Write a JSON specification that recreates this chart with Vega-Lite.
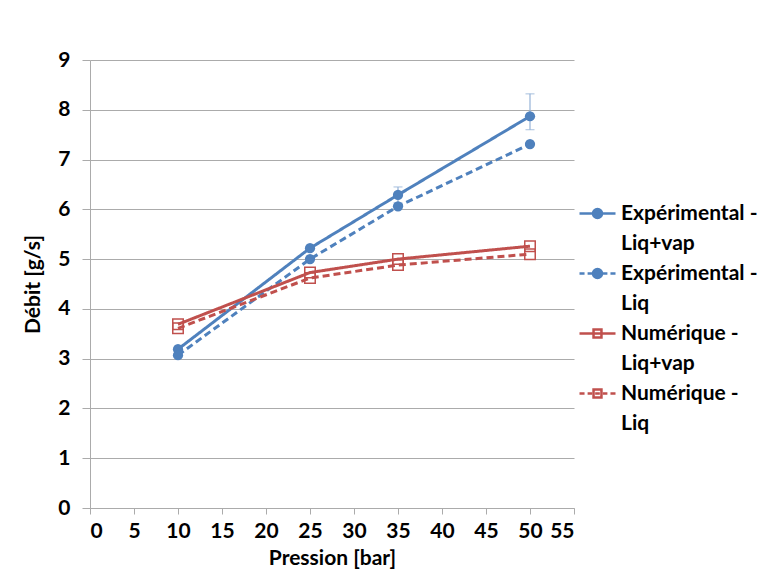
{
  "$schema": "https://vega.github.io/schema/vega-lite/v6.json",
  "width": 484,
  "height": 448,
  "autosize": "none",
  "padding": {"left": 90, "top": 60, "right": 183, "bottom": 65},
  "background": "white",
  "config": {
    "font": "Lato",
    "view": {"stroke": null},
    "axis": {
      "labelFont": "Lato", "labelFontWeight": "bold", "labelFontSize": 21, "labelColor": "#000000",
      "titleFont": "Lato", "titleFontWeight": "bold", "titleFontSize": 21, "titleColor": "#000000",
      "domainColor": "#ABABAB", "tickColor": "#ABABAB", "gridColor": "#ABABAB", "domainWidth": 1, "tickWidth": 1, "gridWidth": 1
    },
    "style": {"guide-label": {"lineHeight": 30}}
  },
  "datasets": {
    "d": [
      {"serie": "Expérimental - Liq+vap", "groupe": "Expérimental", "pression": 10, "debit": 3.19},
      {"serie": "Expérimental - Liq+vap", "groupe": "Expérimental", "pression": 25, "debit": 5.22},
      {"serie": "Expérimental - Liq+vap", "groupe": "Expérimental", "pression": 35, "debit": 6.29},
      {"serie": "Expérimental - Liq+vap", "groupe": "Expérimental", "pression": 50, "debit": 7.87},
      {"serie": "Expérimental - Liq", "groupe": "Expérimental", "pression": 10, "debit": 3.07},
      {"serie": "Expérimental - Liq", "groupe": "Expérimental", "pression": 25, "debit": 5.0},
      {"serie": "Expérimental - Liq", "groupe": "Expérimental", "pression": 35, "debit": 6.06},
      {"serie": "Expérimental - Liq", "groupe": "Expérimental", "pression": 50, "debit": 7.31},
      {"serie": "Numérique - Liq+vap", "groupe": "Numérique", "pression": 10, "debit": 3.69},
      {"serie": "Numérique - Liq+vap", "groupe": "Numérique", "pression": 25, "debit": 4.73},
      {"serie": "Numérique - Liq+vap", "groupe": "Numérique", "pression": 35, "debit": 5.0},
      {"serie": "Numérique - Liq+vap", "groupe": "Numérique", "pression": 50, "debit": 5.26},
      {"serie": "Numérique - Liq", "groupe": "Numérique", "pression": 10, "debit": 3.61},
      {"serie": "Numérique - Liq", "groupe": "Numérique", "pression": 25, "debit": 4.62},
      {"serie": "Numérique - Liq", "groupe": "Numérique", "pression": 35, "debit": 4.88},
      {"serie": "Numérique - Liq", "groupe": "Numérique", "pression": 50, "debit": 5.1}
    ],
    "err": [
      {"pression": 35, "bas": 6.13, "haut": 6.45},
      {"pression": 50, "bas": 7.6, "haut": 8.32}
    ]
  },
  "layer": [
    {
      "data": {"name": "err"},
      "mark": {"type": "errorbar", "ticks": {"size": 9}, "color": "#95B3D7", "thickness": 1.2},
      "encoding": {
        "x": {"field": "pression", "type": "quantitative", "title": "Pression [bar]", "scale": {"domain": [0, 55]}},
        "y": {"field": "bas", "type": "quantitative", "title": "Débit [g/s]", "scale": {"domain": [0, 9]}},
        "y2": {"field": "haut"}
      }
    },
    {
      "data": {"name": "d"},
      "mark": {"type": "line", "strokeWidth": 3},
      "encoding": {
        "x": {"field": "pression", "type": "quantitative", "title": "Pression [bar]"},
        "y": {"field": "debit", "type": "quantitative", "title": "Débit [g/s]"},
        "color": {"field": "serie", "type": "nominal", "legend": null,
          "scale": {"range": ["#4F81BD", "#4F81BD", "#C0504D", "#C0504D"]}},
        "strokeDash": {"field": "serie", "type": "nominal", "legend": null,
          "scale": {"range": [[7, 4], [1, 0], [7, 4], [1, 0]]}}
      }
    },
    {
      "data": {"name": "d"},
      "transform": [{"filter": "datum.groupe == 'Expérimental'"}],
      "mark": {"type": "point", "shape": "circle", "filled": true, "size": 105, "opacity": 1},
      "encoding": {
        "x": {"field": "pression", "type": "quantitative", "title": "Pression [bar]"},
        "y": {"field": "debit", "type": "quantitative", "title": "Débit [g/s]"},
        "color": {"field": "serie", "type": "nominal", "legend": null}
      }
    },
    {
      "data": {"name": "d"},
      "transform": [{"filter": "datum.groupe == 'Numérique'"}],
      "mark": {"type": "point", "shape": "square", "filled": false, "size": 110, "strokeWidth": 1.5, "opacity": 1},
      "encoding": {
        "x": {"field": "pression", "type": "quantitative", "title": "Pression [bar]"},
        "y": {"field": "debit", "type": "quantitative", "title": "Débit [g/s]"},
        "color": {"field": "serie", "type": "nominal", "legend": null}
      }
    },
    {
      "data": {"name": "d"},
      "transform": [{"filter": "datum.debit < 0"}],
      "mark": {"type": "point", "filled": true, "opacity": 1},
      "encoding": {
        "x": {"field": "pression", "type": "quantitative", "title": "Pression [bar]",
          "axis": {"values": [0, 5, 10, 15, 20, 25, 30, 35, 40, 45, 50, 55], "grid": false, "tickSize": 6, "labelPadding": 6, "titlePadding": 6}},
        "y": {"field": "debit", "type": "quantitative", "title": "Débit [g/s]",
          "axis": {"values": [0, 1, 2, 3, 4, 5, 6, 7, 8, 9], "grid": true, "tickSize": 8, "labelPadding": 12, "titlePadding": 14}},
        "shape": {"field": "serie", "type": "nominal",
          "scale": {"domain": ["Expérimental - Liq+vap", "Expérimental - Liq", "Numérique - Liq+vap", "Numérique - Liq"],
            "range": [
              "M-1,0L1,0M0.25,0C0.25,0.138,0.138,0.25,0,0.25C-0.138,0.25,-0.25,0.138,-0.25,0C-0.25,-0.138,-0.138,-0.25,0,-0.25C0.138,-0.25,0.25,-0.138,0.25,0Z",
              "M-1,0L-0.72,0M-0.55,0L-0.3,0M0.3,0L0.55,0M0.72,0L1,0M0.25,0C0.25,0.138,0.138,0.25,0,0.25C-0.138,0.25,-0.25,0.138,-0.25,0C-0.25,-0.138,-0.138,-0.25,0,-0.25C0.138,-0.25,0.25,-0.138,0.25,0Z",
              "M-1,0L1,0M-0.22,-0.22L0.22,-0.22L0.22,0.22L-0.22,0.22Z",
              "M-1,0L-0.72,0M-0.55,0L-0.3,0M-0.13,0L0.13,0M0.3,0L0.55,0M0.72,0L1,0M-0.22,-0.22L0.22,-0.22L0.22,0.22L-0.22,0.22Z"
            ]},
          "legend": {
            "title": null, "orient": "none", "legendX": 488, "legendY": 134, "padding": 0,
            "symbolSize": 1296, "symbolStrokeWidth": 2.5, "symbolOpacity": 1, "labelOffset": 4,
            "labelFont": "Lato", "labelFontWeight": "bold", "labelFontSize": 21, "labelColor": "#000000",
            "labelLimit": 300, "labelBaseline": "middle", "rowPadding": -13,
            "labelExpr": "[split(datum.label, ' - ')[0] + ' -', split(datum.label, ' - ')[1]]"
          }},
        "fill": {"field": "serie", "type": "nominal",
          "scale": {"domain": ["Expérimental - Liq+vap", "Expérimental - Liq", "Numérique - Liq+vap", "Numérique - Liq"], "range": ["#4F81BD", "#4F81BD", "transparent", "transparent"]}},
        "stroke": {"field": "serie", "type": "nominal",
          "scale": {"domain": ["Expérimental - Liq+vap", "Expérimental - Liq", "Numérique - Liq+vap", "Numérique - Liq"], "range": ["#4F81BD", "#4F81BD", "#C0504D", "#C0504D"]}}
      }
    }
  ]
}
